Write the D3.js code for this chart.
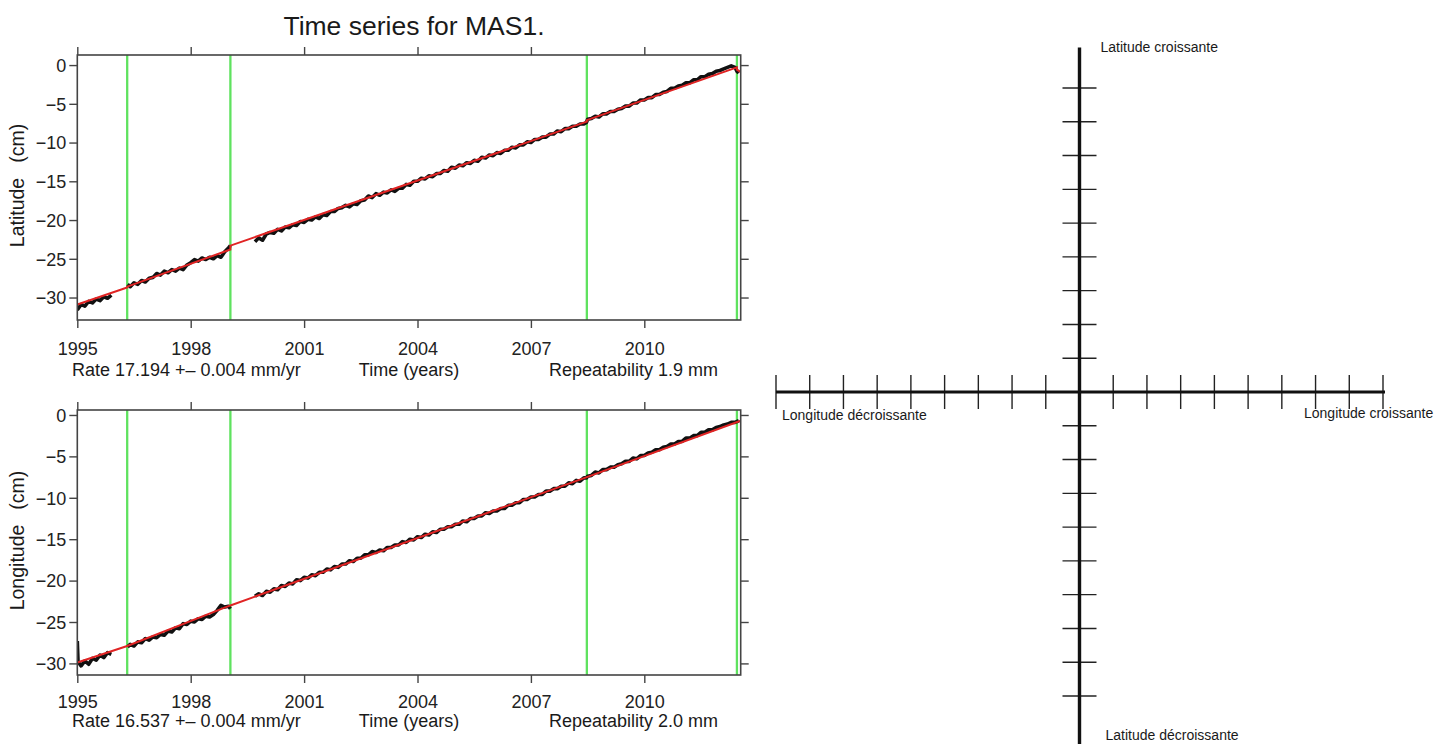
<!DOCTYPE html>
<html>
<head>
<meta charset="utf-8">
<script src="https://cdn.jsdelivr.net/npm/d3@7"></script>
<style>
  body { margin: 0; background: #fff; }
  svg { display: block; font-family: "Liberation Sans", Arial, sans-serif; }
</style>
</head>
<body>
<svg id="chart" width="1452" height="744"></svg>
<script>
// Time series for MAS1 (GPS station), positions in cm
var chartTitle = 'Time series for MAS1.';
var yearTicks = [1995, 1998, 2001, 2004, 2007, 2010];
var cmTicks = [0, -5, -10, -15, -20, -25, -30];
// equipment changes, drawn as green lines
var breakYears = [1996.32, 1999.05, 2008.48, 2012.45];

var latRate = 'Rate 17.194 +\u2013 0.004 mm/yr';
var latRep = 'Repeatability 1.9 mm';
var lonRate = 'Rate 16.537 +\u2013 0.004 mm/yr';
var lonRep = 'Repeatability 2.0 mm';
var timeLabel = 'Time (years)';

// [year, cm]; null marks a gap in the data
var latSeries = [
  [1995.0,-31.6],[1995.1,-30.9],[1995.2,-31.1],[1995.3,-30.5],[1995.4,-30.7],[1995.5,-30.2],[1995.6,-30.4],
  [1995.7,-29.9],[1995.8,-30.1],[1995.9,-29.7],[1996.1,null],
  [1996.33,-28.3],[1996.4,-28.6],[1996.5,-28.1],[1996.6,-28.3],[1996.7,-27.8],[1996.8,-28.0],[1996.9,-27.5],
  [1997.0,-27.4],[1997.1,-26.9],[1997.2,-27.1],[1997.3,-26.6],[1997.4,-26.8],[1997.5,-26.4],[1997.6,-26.6],
  [1997.7,-26.2],[1997.8,-26.4],[1997.9,-25.8],[1998.0,-25.5],[1998.1,-25.1],[1998.2,-25.3],[1998.3,-24.9],
  [1998.4,-25.1],[1998.5,-24.8],[1998.6,-25.0],[1998.7,-24.6],[1998.8,-24.8],[1998.9,-24.1],[1999.0,-23.6],
  [1999.05,-23.3],[1999.4,null],
  [1999.7,-22.8],[1999.8,-22.3],[1999.9,-22.6],[2000.0,-21.8],[2000.1,-21.6],[2000.2,-21.7],[2000.3,-21.2],
  [2000.4,-21.4],[2000.5,-20.9],[2000.6,-21.0],[2000.7,-20.6],[2000.8,-20.7],[2000.9,-20.2],[2001.0,-20.3],
  [2001.1,-19.9],[2001.2,-20.0],[2001.3,-19.6],[2001.4,-19.8],[2001.5,-19.3],[2001.6,-19.4],[2001.7,-18.9],
  [2001.8,-18.9],[2001.9,-18.5],[2002.0,-18.4],[2002.1,-18.1],[2002.2,-18.3],[2002.3,-17.9],[2002.4,-18.0],
  [2002.5,-17.5],[2002.6,-17.4],[2002.7,-16.9],[2002.8,-17.1],[2002.9,-16.6],[2003.0,-16.8],[2003.1,-16.4],
  [2003.2,-16.5],[2003.3,-16.1],[2003.4,-16.3],[2003.5,-15.9],[2003.6,-15.9],[2003.7,-15.4],[2003.8,-15.5],
  [2003.9,-15.0],[2004.0,-15.0],[2004.1,-14.6],[2004.2,-14.7],[2004.3,-14.3],[2004.4,-14.4],[2004.5,-14.0],
  [2004.6,-14.0],[2004.7,-13.6],[2004.8,-13.7],[2004.9,-13.2],[2005.0,-13.3],[2005.1,-12.9],[2005.2,-13.0],
  [2005.3,-12.6],[2005.4,-12.7],[2005.5,-12.3],[2005.6,-12.4],[2005.7,-11.9],[2005.8,-12.0],[2005.9,-11.6],
  [2006.0,-11.7],[2006.1,-11.3],[2006.2,-11.4],[2006.3,-11.0],[2006.4,-11.0],[2006.5,-10.6],[2006.6,-10.7],
  [2006.7,-10.3],[2006.8,-10.3],[2006.9,-9.9],[2007.0,-10.0],[2007.1,-9.6],[2007.2,-9.6],[2007.3,-9.3],
  [2007.4,-9.3],[2007.5,-8.9],[2007.6,-8.9],[2007.7,-8.5],[2007.8,-8.6],[2007.9,-8.2],[2008.0,-8.2],
  [2008.1,-7.9],[2008.2,-7.9],[2008.3,-7.6],[2008.4,-7.6],[2008.47,-7.4],[2008.5,-7.0],[2008.6,-6.9],
  [2008.7,-6.6],[2008.8,-6.7],[2008.9,-6.3],[2009.0,-6.3],[2009.1,-6.0],[2009.2,-6.0],[2009.3,-5.7],
  [2009.4,-5.6],[2009.5,-5.3],[2009.6,-5.3],[2009.7,-4.9],[2009.8,-4.9],[2009.9,-4.5],[2010.0,-4.5],
  [2010.1,-4.2],[2010.2,-4.2],[2010.3,-3.8],[2010.4,-3.8],[2010.5,-3.5],[2010.6,-3.4],[2010.7,-3.0],
  [2010.8,-3.0],[2010.9,-2.7],[2011.0,-2.6],[2011.1,-2.3],[2011.2,-2.3],[2011.3,-1.9],[2011.4,-1.9],
  [2011.5,-1.5],[2011.6,-1.5],[2011.7,-1.2],[2011.8,-1.1],[2011.9,-0.8],[2012.0,-0.7],[2012.1,-0.5],
  [2012.2,-0.3],[2012.3,-0.1],[2012.4,-0.3],[2012.45,-0.8],[2012.5,-1.0]
];
var latFit = [
  [1995.0,-30.9],[1996.32,-28.7],[1996.32,-28.6],[1999.05,-23.8],[1999.05,-23.3],
  [2008.48,-7.3],[2008.48,-7.1],[2012.45,-0.3],[2012.45,-0.6],[2012.55,-0.9]
];

var lonSeries = [
  [1995.0,-27.3],[1995.02,-29.8],[1995.1,-30.3],[1995.2,-29.7],[1995.3,-30.1],[1995.4,-29.4],[1995.5,-29.6],
  [1995.6,-29.0],[1995.7,-29.3],[1995.8,-28.7],[1995.9,-28.9],[1996.1,null],
  [1996.33,-28.0],[1996.4,-27.7],[1996.5,-27.9],[1996.6,-27.4],[1996.7,-27.5],[1996.8,-27.0],[1996.9,-27.2],
  [1997.0,-26.8],[1997.1,-26.9],[1997.2,-26.5],[1997.3,-26.6],[1997.4,-26.1],[1997.5,-26.2],[1997.6,-25.7],
  [1997.7,-25.8],[1997.8,-25.2],[1997.9,-25.3],[1998.0,-24.9],[1998.1,-25.0],[1998.2,-24.6],[1998.3,-24.7],
  [1998.4,-24.3],[1998.5,-24.4],[1998.6,-24.1],[1998.7,-23.6],[1998.8,-23.0],[1998.9,-23.2],[1999.0,-23.1],
  [1999.05,-23.4],[1999.4,null],
  [1999.7,-21.9],[1999.8,-21.6],[1999.9,-21.8],[2000.0,-21.3],[2000.1,-21.4],[2000.2,-21.0],[2000.3,-21.1],
  [2000.4,-20.6],[2000.5,-20.7],[2000.6,-20.3],[2000.7,-20.4],[2000.8,-19.9],[2000.9,-20.0],[2001.0,-19.6],
  [2001.1,-19.7],[2001.2,-19.3],[2001.3,-19.4],[2001.4,-19.0],[2001.5,-19.0],[2001.6,-18.6],[2001.7,-18.7],
  [2001.8,-18.3],[2001.9,-18.4],[2002.0,-18.0],[2002.1,-18.0],[2002.2,-17.6],[2002.3,-17.7],[2002.4,-17.3],
  [2002.5,-17.3],[2002.6,-16.9],[2002.7,-16.9],[2002.8,-16.5],[2002.9,-16.6],[2003.0,-16.3],[2003.1,-16.4],
  [2003.2,-16.0],[2003.3,-16.0],[2003.4,-15.7],[2003.5,-15.7],[2003.6,-15.3],[2003.7,-15.4],[2003.8,-15.0],
  [2003.9,-15.1],[2004.0,-14.7],[2004.1,-14.8],[2004.2,-14.4],[2004.3,-14.5],[2004.4,-14.1],[2004.5,-14.2],
  [2004.6,-13.8],[2004.7,-13.8],[2004.8,-13.5],[2004.9,-13.5],[2005.0,-13.2],[2005.1,-13.2],[2005.2,-12.8],
  [2005.3,-12.9],[2005.4,-12.5],[2005.5,-12.5],[2005.6,-12.2],[2005.7,-12.2],[2005.8,-11.8],[2005.9,-11.9],
  [2006.0,-11.6],[2006.1,-11.6],[2006.2,-11.3],[2006.3,-11.3],[2006.4,-10.9],[2006.5,-10.9],[2006.6,-10.6],
  [2006.7,-10.6],[2006.8,-10.2],[2006.9,-10.2],[2007.0,-9.9],[2007.1,-9.9],[2007.2,-9.6],[2007.3,-9.6],
  [2007.4,-9.2],[2007.5,-9.2],[2007.6,-8.9],[2007.7,-8.9],[2007.8,-8.6],[2007.9,-8.6],[2008.0,-8.2],
  [2008.1,-8.3],[2008.2,-7.9],[2008.3,-8.0],[2008.4,-7.6],[2008.47,-7.6],[2008.5,-7.4],[2008.6,-7.3],
  [2008.7,-6.9],[2008.8,-7.0],[2008.9,-6.6],[2009.0,-6.6],[2009.1,-6.3],[2009.2,-6.3],[2009.3,-6.0],
  [2009.4,-5.9],[2009.5,-5.6],[2009.6,-5.6],[2009.7,-5.2],[2009.8,-5.3],[2009.9,-4.9],[2010.0,-4.9],
  [2010.1,-4.6],[2010.2,-4.5],[2010.3,-4.2],[2010.4,-4.2],[2010.5,-3.9],[2010.6,-3.8],[2010.7,-3.5],
  [2010.8,-3.5],[2010.9,-3.2],[2011.0,-3.2],[2011.1,-2.8],[2011.2,-2.8],[2011.3,-2.5],[2011.4,-2.5],
  [2011.5,-2.1],[2011.6,-2.1],[2011.7,-1.8],[2011.8,-1.8],[2011.9,-1.5],[2012.0,-1.4],[2012.1,-1.2],
  [2012.2,-1.1],[2012.3,-0.9],[2012.4,-0.9],[2012.5,-0.7]
];
var lonFit = [
  [1995.0,-29.9],[1996.32,-27.9],[1999.05,-23.0],[2008.48,-7.5],[2012.55,-0.7]
];

// orientation sketch on the right
var crossSteps = [-9, -8, -7, -6, -5, -4, -3, -2, -1, 1, 2, 3, 4, 5, 6, 7, 8, 9];
var latUpLabel = 'Latitude croissante';
var latDownLabel = 'Latitude d\u00e9croissante';
var lonUpLabel = 'Longitude croissante';
var lonDownLabel = 'Longitude d\u00e9croissante';

var svg = d3.select('#chart');

var x = d3.scaleLinear().domain([1995, 2012.55]).range([77.3, 740.7]);

var panels = [
  {series: latSeries, fit: latFit, domain: [-32.9, 1.3], top: 55, bottom: 320,
   name: 'Latitude', rate: latRate, rep: latRep, tickY: 355, infoY: 376},
  {series: lonSeries, fit: lonFit, domain: [-31.4, 0.6], top: 410, bottom: 675,
   name: 'Longitude', rate: lonRate, rep: lonRep, tickY: 708, infoY: 727}
];

svg.append('text')
  .attr('x', 414)
  .attr('y', 35)
  .attr('text-anchor', 'middle')
  .attr('font-size', 26.5)
  .attr('fill', '#1a1a1a')
  .text(chartTitle);

function styleAxis(sel) {
  sel.attr('font-family', null).attr('font-size', 18);
  sel.select('.domain').remove();
  sel.selectAll('.tick line').attr('stroke', '#444').attr('stroke-width', 1.4);
  sel.selectAll('.tick text').attr('fill', '#222');
}

panels.forEach(function(p, i) {
  var y = d3.scaleLinear().domain(p.domain).range([p.bottom, p.top]);
  var x0 = x.range()[0], x1 = x.range()[1];

  var g = svg.append('g').attr('class', 'panel');

  svg.append('clipPath').attr('id', 'clip' + i)
    .append('rect')
    .attr('x', x0).attr('y', p.top)
    .attr('width', x1 - x0).attr('height', p.bottom - p.top);

  var plot = g.append('g').attr('clip-path', 'url(#clip' + i + ')');

  plot.selectAll('line.break')
    .data(breakYears)
    .enter().append('line')
    .attr('class', 'break')
    .attr('x1', function(d) { return x(d); })
    .attr('x2', function(d) { return x(d); })
    .attr('y1', p.top)
    .attr('y2', p.bottom)
    .attr('stroke', '#5fe25f')
    .attr('stroke-width', 2.3);

  var line = d3.line()
    .defined(function(d) { return d[1] !== null; })
    .x(function(d) { return x(d[0]); })
    .y(function(d) { return y(d[1]); });

  plot.append('path')
    .datum(p.series)
    .attr('d', line)
    .attr('fill', 'none')
    .attr('stroke', '#111')
    .attr('stroke-width', 3.6)
    .attr('stroke-linejoin', 'round');

  plot.append('path')
    .datum(p.fit)
    .attr('d', line)
    .attr('fill', 'none')
    .attr('stroke', '#e02424')
    .attr('stroke-width', 2);

  g.append('rect')
    .attr('x', x0).attr('y', p.top)
    .attr('width', x1 - x0).attr('height', p.bottom - p.top)
    .attr('fill', 'none')
    .attr('stroke', '#444')
    .attr('stroke-width', 1.6);

  var xb = g.append('g')
    .attr('transform', 'translate(0,' + p.bottom + ')')
    .call(d3.axisBottom(x).tickValues(yearTicks).tickSize(8).tickSizeOuter(0).tickFormat(d3.format('d')));
  styleAxis(xb);
  xb.selectAll('.tick text').attr('y', p.tickY - p.bottom).attr('dy', null);

  var xt = g.append('g')
    .attr('transform', 'translate(0,' + p.top + ')')
    .call(d3.axisTop(x).tickValues(yearTicks).tickSize(8).tickSizeOuter(0).tickFormat(''));
  styleAxis(xt);

  var yl = g.append('g')
    .attr('transform', 'translate(' + x0 + ',0)')
    .call(d3.axisLeft(y).tickValues(cmTicks).tickSize(8).tickSizeOuter(0));
  styleAxis(yl);
  yl.selectAll('.tick text').attr('x', -11).attr('dy', '0.35em');

  var yr = g.append('g')
    .attr('transform', 'translate(' + x1 + ',0)')
    .call(d3.axisRight(y).tickValues(cmTicks).tickSize(8).tickSizeOuter(0).tickFormat(''));
  styleAxis(yr);

  var info = g.append('g').attr('font-size', 18).attr('fill', '#1a1a1a');
  info.append('text').attr('x', 72).attr('y', p.infoY).text(p.rate);
  info.append('text').attr('x', (x0 + x1) / 2).attr('y', p.infoY)
    .attr('text-anchor', 'middle').text(timeLabel);
  info.append('text').attr('x', 718).attr('y', p.infoY)
    .attr('text-anchor', 'end').text(p.rep);

  var yLabel = g.append('text')
    .attr('transform', 'translate(24,' + ((p.top + p.bottom) / 2 - 2) + ') rotate(-90)')
    .attr('text-anchor', 'middle')
    .attr('font-size', 19.5)
    .attr('fill', '#1a1a1a');
  yLabel.append('tspan').text(p.name);
  yLabel.append('tspan').attr('dx', 15).text('(cm)');
});

// right-hand sketch: latitude / longitude directions
var cx = d3.scaleLinear().domain([-9, 9]).range([776, 1383]);
var cy = d3.scaleLinear().domain([-9, 9]).range([696, 88]);
var cross = svg.append('g').attr('class', 'cross');

cross.selectAll('line.hx')
  .data(crossSteps)
  .enter().append('line')
  .attr('class', 'hx')
  .attr('x1', function(d) { return cx(d); })
  .attr('x2', function(d) { return cx(d); })
  .attr('y1', cy(0) - 17)
  .attr('y2', cy(0) + 17)
  .attr('stroke', '#222')
  .attr('stroke-width', 1.4);

cross.selectAll('line.vy')
  .data(crossSteps)
  .enter().append('line')
  .attr('class', 'vy')
  .attr('x1', cx(0) - 17)
  .attr('x2', cx(0) + 17)
  .attr('y1', function(d) { return cy(d); })
  .attr('y2', function(d) { return cy(d); })
  .attr('stroke', '#222')
  .attr('stroke-width', 1.4);

cross.append('line')
  .attr('x1', cx(-9)).attr('x2', cx(9) + 2)
  .attr('y1', cy(0)).attr('y2', cy(0))
  .attr('stroke', '#111').attr('stroke-width', 3.2);

cross.append('line')
  .attr('x1', cx(0)).attr('x2', cx(0))
  .attr('y1', cy(10.2)).attr('y2', cy(-10.6))
  .attr('stroke', '#111').attr('stroke-width', 3.4);

var lab = cross.append('g').attr('font-size', 14).attr('fill', '#1a1a1a');
lab.append('text').attr('x', cx(0) + 21).attr('y', 52).text(latUpLabel);
lab.append('text').attr('x', cx(0) + 26).attr('y', 740).text(latDownLabel);
lab.append('text').attr('x', 782).attr('y', 420).text(lonDownLabel);
lab.append('text').attr('x', 1304).attr('y', 418).text(lonUpLabel);
</script>
</body>
</html>
